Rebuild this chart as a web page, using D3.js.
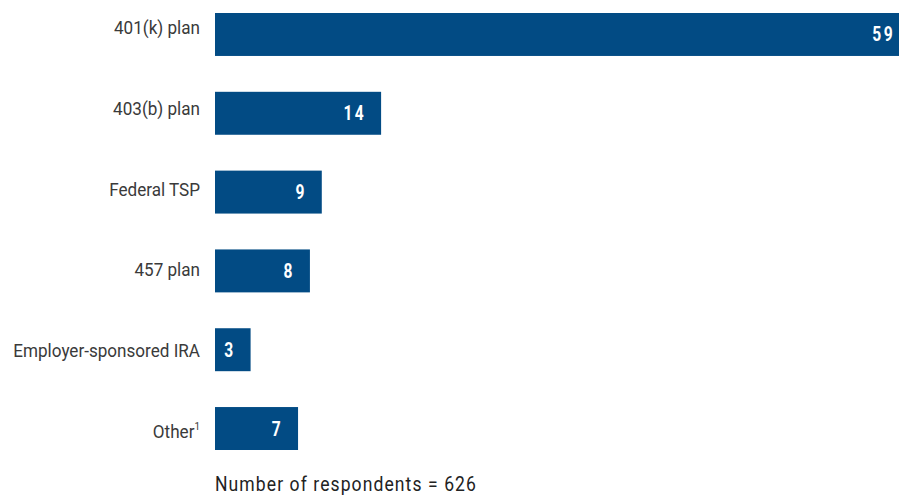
<!DOCTYPE html>
<html>
<head>
<meta charset="utf-8">
<script src="https://cdn.jsdelivr.net/npm/d3@7"></script>
<style>
  body { margin: 0; background: #fff; }
  svg { display: block; font-family: "Roboto", "Liberation Sans", sans-serif; }
</style>
</head>
<body>
<div id="Barchart" style="width:899px;height:496px"></div>
<script>
// data
const categories = ["401(k) plan", "403(b) plan", "Federal TSP", "457 plan", "Employer-sponsored IRA", "Other"];
const counts = [59, 14, 9, 8, 3, 7];
const footnotes = ["", "", "", "", "", "1"];
const respondents = 626;

const data = categories.map((c, i) => ({ name: c, count: counts[i], note: footnotes[i] }));

const w = 899, h = 496;
const margin = { top: 13, right: 0, bottom: 46, left: 215 };
const squeeze = 0.9; // no condensed face installed, so narrow the glyphs by hand

const svg = d3.select("#Barchart").append("svg")
    .attr("width", w)
    .attr("height", h);

// SCALES - the 59 bar runs off the right edge in the original
const x = d3.scaleLinear()
    .domain([0, 59])
    .range([margin.left, 915]);

const y = d3.scaleBand()
    .domain(categories)
    .range([margin.top, h - margin.bottom])
    .paddingInner(0.455)
    .paddingOuter(0);

// category labels sit on their own slightly wider grid
const yLabel = d3.scalePoint()
    .domain(categories)
    .range([34, 438]);

// bars
svg.append("g").selectAll(".bar")
    .data(data).enter().append("rect")
    .attr("class", "bar")
    .attr("x", x(0))
    .attr("y", d => y(d.name))
    .attr("width", d => x(d.count) - x(0))
    .attr("height", y.bandwidth())
    .attr("fill", "#024b84");

// values inside bars
svg.append("g").selectAll(".val")
    .data(data).enter().append("text")
    .attr("class", "val")
    .attr("transform", d => {
        const xr = Math.min(x(d.count), w) - (x(d.count) > w ? 4 : 15);
        return `translate(${xr},${y(d.name) + y.bandwidth() / 2}) scale(0.8,1)`;
    })
    .attr("dy", "0.36em")
    .attr("text-anchor", "end")
    .attr("fill", "#fff")
    .attr("font-weight", "bold")
    .attr("font-size", 19.5)
    .attr("letter-spacing", 3)
    .text(d => d.count);

// category labels
const lbl = svg.append("g").selectAll(".lbl")
    .data(data).enter().append("text")
    .attr("class", "lbl")
    .attr("transform", d => `translate(200,${yLabel(d.name)}) scale(${squeeze},1)`)
    .attr("text-anchor", "end")
    .attr("fill", "#3a3a3a")
    .attr("font-size", 19);

lbl.append("tspan").text(d => d.name);
lbl.append("tspan")
    .attr("font-size", 11)
    .attr("dy", -8)
    .text(d => d.note);

// respondents note
svg.append("text")
    .attr("transform", `translate(${margin.left},491) scale(${squeeze},1)`)
    .attr("fill", "#222")
    .attr("font-size", 19.5)
    .attr("letter-spacing", 1.2)
    .text("Number of respondents = " + respondents);
</script>
</body>
</html>
